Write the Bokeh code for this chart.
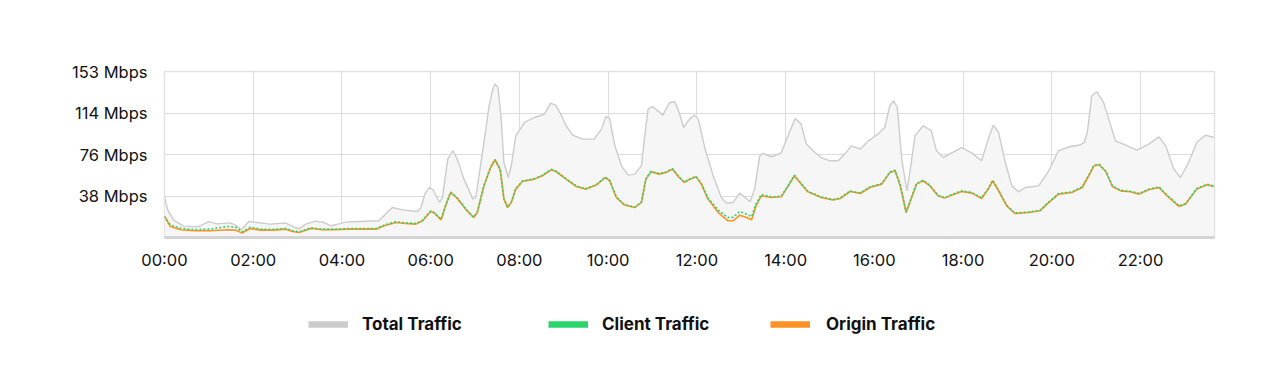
from bokeh.plotting import figure
from bokeh.layouts import column
from bokeh.models import Range1d, FixedTicker, Legend, LegendItem
from bokeh.embed import file_html
from bokeh.resources import INLINE

# ---- data (minutes from midnight, Mbps) ----
total_t = [0, 4, 12, 26, 45, 60, 71, 89, 96, 104, 114, 125, 143, 164, 177, 182, 191, 204, 216, 225,
           236, 245, 263, 290, 301, 308, 322, 342, 347, 352, 358, 363, 372, 376, 383, 390, 396, 405,
           417, 421, 430, 439, 444, 447, 451, 455, 459, 465, 469, 475, 487, 500, 514, 522, 529, 537,
           543, 552, 566, 581, 591, 597, 602, 609, 618, 627, 636, 645, 649, 654, 660, 674, 683, 690,
           696, 702, 710, 717, 722, 731, 742, 753, 760, 769, 778, 785, 792, 798, 805, 809, 821, 834,
           846, 853, 861, 868, 877, 888, 900, 911, 920, 929, 941, 952, 965, 974, 981, 986, 991, 997,
           1004, 1008, 1015, 1026, 1037, 1044, 1053, 1064, 1078, 1092, 1105, 1114, 1121, 1128, 1137,
           1146, 1155, 1164, 1182, 1196, 1209, 1223, 1238, 1244, 1248, 1254, 1261, 1270, 1277, 1286,
           1297, 1315, 1331, 1345, 1354, 1365, 1374, 1385, 1396, 1408, 1419]
total_v = [37.8, 26, 16, 10.5, 9.9, 14.7, 12.6, 13.5, 11.4, 7.1, 14.7, 13.8, 12.3, 13.3, 9.2, 8.0, 12.3,
           15.1, 13.8, 10.8, 12.6, 14.2, 14.7, 15.4, 23, 27.6, 25.5, 24, 27.6, 40, 46, 44, 32.3, 36.9,
           72, 80, 72, 53.8, 35.4, 36.9, 78.3, 121.4, 136.8, 141.4, 138.2, 112.2, 69.1, 55.3, 66.1,
           93.7, 106, 110.6, 113.7, 123.9, 122, 112.2, 103, 94.4, 90.7, 90.7, 99.9, 111.5, 109.7, 84.5,
           66.1, 57.5, 58.4, 66.1, 90.7, 118.3, 120.7, 112.8, 124.4, 125.1, 115.2, 101.4, 109.1, 112.8,
           109.1, 81.5, 56.9, 36.9, 31.7, 32.3, 40.9, 36.9, 32.9, 44.6, 75.3, 77.4, 74.4, 77.8, 98.3,
           109.7, 104.5, 86.1, 79.9, 73.7, 70.7, 70.7, 76.9, 84.5, 81.5, 89.1, 95.3, 101.4, 121.4, 126,
           119.8, 72.3, 43, 59.9, 93.7, 103, 98.3, 79.9, 73.7, 77.8, 82.9, 77.8, 70.7, 90.7, 103.6, 96.8,
           69.1, 47.6, 42.1, 46.1, 47.6, 61.5, 79.9, 83.6, 85.2, 87.6, 96.8, 130.6, 134.3, 124.4, 109.1,
           89.1, 86.1, 80.6, 86.1, 92.8, 84.5, 63, 55.3, 69.1, 87.6, 94.4, 92.2]

flow_t = [0, 8, 22, 40, 62, 85, 96, 105, 116, 130, 148, 164, 173, 182, 198, 214, 227, 250, 268, 286,
          297, 313, 326, 340, 349, 360, 365, 374, 381, 387, 396, 408, 418, 423, 432, 441, 447, 454,
          459, 464, 469, 475, 484, 500, 511, 523, 530, 543, 557, 570, 584, 596, 602, 611, 622, 636,
          645, 651, 658, 669, 678, 687, 696, 703, 710, 719, 726, 735, 749, 762, 769, 778, 787, 794,
          800, 807, 821, 834, 843, 852, 861, 870, 888, 904, 914, 927, 941, 954, 970, 981, 988, 995,
          1003, 1008, 1017, 1026, 1035, 1046, 1055, 1066, 1078, 1092, 1105, 1114, 1120, 1128, 1139,
          1150, 1169, 1184, 1196, 1209, 1227, 1241, 1250, 1257, 1264, 1273, 1282, 1293, 1306, 1318,
          1331, 1345, 1356, 1372, 1381, 1396, 1410, 1419]
origin_v = [19.4, 10.1, 7.1, 6.2, 6.2, 7.1, 6.8, 4.1, 8.3, 6.8, 6.8, 7.7, 5.5, 4.6, 8.3, 7.1, 7.1, 7.7,
            7.7, 7.7, 10.8, 13.8, 12.9, 12.3, 15.4, 24, 22.5, 16.3, 30.8, 41.5, 36, 25.5, 18.4, 23,
            47.6, 64.5, 71.6, 62.4, 35.4, 27.6, 32.3, 44.6, 51.6, 53.8, 56.9, 62.4, 60.6, 53.8, 47,
            44.6, 48.3, 55.3, 52.3, 36.9, 29.9, 27.6, 32.3, 53.8, 60.6, 58.4, 59.9, 63, 55.3, 50.7,
            53.5, 55.9, 49.2, 35.4, 23, 15.4, 15.4, 20.6, 18.4, 16.3, 29.2, 38.4, 36.9, 37.5, 47, 56.9,
            49.2, 42.1, 36.9, 34.5, 36, 42.4, 40.6, 46.1, 49.2, 59.9, 61.5, 47.6, 23, 32.3, 49.2, 52.3,
            47.6, 38.4, 36.3, 39.5, 42.4, 40.9, 36, 44.6, 52.3, 43, 29.2, 22.1, 23, 24.6, 32.3, 40, 41.5,
            46.1, 56.9, 66.1, 67, 60.6, 47, 43, 42.1, 40, 44, 46.1, 38.4, 28.6, 30.8, 44.6, 48.6, 47]
client_v = [19.4, 11.4, 8.5, 7.3, 7.7, 10.1, 9.6, 5.3, 9.4, 7.7, 7.6, 8.3, 6.2, 5.2, 8.9, 7.7, 7.7, 8.2,
            8.3, 8.3, 11.4, 14.5, 13.5, 12.9, 16.0, 24.4, 22.9, 16.7, 31.2, 41.9, 36.4, 25.9, 18.8,
            23.4, 48.0, 64.9, 72.0, 62.8, 35.8, 28.0, 32.7, 45.0, 52.0, 54.2, 57.3, 62.8, 61.0, 54.2,
            47.4, 45.0, 48.7, 55.7, 52.7, 37.3, 30.3, 28.0, 32.7, 54.2, 61.0, 58.8, 60.3, 63.4, 55.7,
            51.1, 53.9, 56.3, 49.8, 36.5, 25.0, 18.5, 18.6, 24.0, 21.5, 19.3, 31.0, 39.6, 37.5, 38.0,
            47.5, 57.4, 49.7, 42.6, 37.4, 35.0, 36.5, 42.9, 41.1, 46.6, 49.7, 60.4, 62.0, 48.1, 23.5,
            32.8, 49.7, 52.8, 48.1, 38.9, 36.8, 40.0, 42.9, 41.4, 36.5, 45.1, 52.8, 43.5, 29.7, 22.6,
            23.5, 25.1, 32.8, 40.5, 42.0, 46.6, 57.4, 66.6, 67.5, 61.1, 47.5, 43.5, 42.6, 40.5, 44.5,
            46.6, 38.9, 29.1, 31.3, 45.1, 49.1, 47.5]

x_ticks = [0, 120, 240, 360, 480, 600, 720, 840, 960, 1080, 1200, 1320]
x_labels = ["00:00", "02:00", "04:00", "06:00", "08:00", "10:00", "12:00", "14:00", "16:00",
            "18:00", "20:00", "22:00"]
y_ticks = [38.25, 76.5, 114.75, 153]
y_labels = ["38 Mbps", "76 Mbps", "114 Mbps", "153 Mbps"]
series_names = ["Total Traffic", "Client Traffic", "Origin Traffic"]

GRAY, GREEN, ORANGE = "#cccccc", "#2bd36b", "#ff9224"
FONT = "Inter"
W = 1267

# ---- main chart ----
p = figure(width=W, height=277, x_range=Range1d(0, 1420), y_range=Range1d(0, 153),
           output_backend="svg", toolbar_location=None,
           min_border_left=164, min_border_right=53, min_border_top=71, min_border_bottom=40)
p.background_fill_color = "white"
p.border_fill_color = "white"
p.outline_line_color = "#e2e2e2"
p.outline_line_width = 1.5

p.varea(x=total_t, y1=[0] * len(total_t), y2=total_v, fill_color="#f6f6f6")
p.line(total_t, total_v, line_color=GRAY, line_width=1.4)
p.line(flow_t, origin_v, line_color=ORANGE, line_width=1.6)
p.line(flow_t, client_v, line_color=GREEN, line_width=1.6, line_dash="2 2")

p.xaxis.ticker = FixedTicker(ticks=x_ticks)
p.xaxis.major_label_overrides = {t: l for t, l in zip(x_ticks, x_labels)}
p.yaxis.ticker = FixedTicker(ticks=y_ticks)
p.yaxis.major_label_overrides = {t: l for t, l in zip(y_ticks, y_labels)}
for ax in (p.xaxis, p.yaxis):
    ax.major_tick_line_color = None
    ax.minor_tick_line_color = None
    ax.major_tick_out = 0
    ax.major_tick_in = 0
    ax.major_label_text_font = FONT
    ax.major_label_text_font_size = "16.5px"
    ax.major_label_text_color = "#111111"
p.yaxis.axis_line_color = None
p.yaxis.major_label_standoff = 17
p.xaxis.axis_line_color = "#d4d4d4"
p.xaxis.axis_line_width = 3
p.xaxis.major_label_standoff = 12

p.xgrid.ticker = FixedTicker(ticks=x_ticks)
p.ygrid.ticker = FixedTicker(ticks=y_ticks)
p.grid.grid_line_color = "#dcdcdc"
p.grid.grid_line_width = 1

# ---- legend strip (its frame is aligned with the chart frame by the column) ----
lf = figure(width=W, height=87, x_range=Range1d(0, 1), y_range=Range1d(0, 1),
            output_backend="svg", toolbar_location=None,
            x_axis_location=None, y_axis_location=None,
            min_border_left=0, min_border_right=0, min_border_top=0, min_border_bottom=0)
lf.outline_line_color = None
lf.grid.visible = False
sw = [lf.line([-5], [-5], line_color=c, line_width=6.5) for c in (GRAY, GREEN, ORANGE)]
for r, lab, x, so in zip(sw, series_names, (144, 384, 606), (14, 14, 16)):
    lg = Legend(items=[LegendItem(label=lab, renderers=[r])], location=(x, 30),
                orientation="horizontal", glyph_width=40, glyph_height=20, label_height=20,
                label_standoff=so, padding=0, margin=0, border_line_color=None,
                background_fill_alpha=0, label_text_font=FONT, label_text_font_style="bold",
                label_text_font_size="17px", label_text_color="#111111")
    lf.add_layout(lg)

open("out.html", "w").write(file_html(column(p, lf), INLINE))
